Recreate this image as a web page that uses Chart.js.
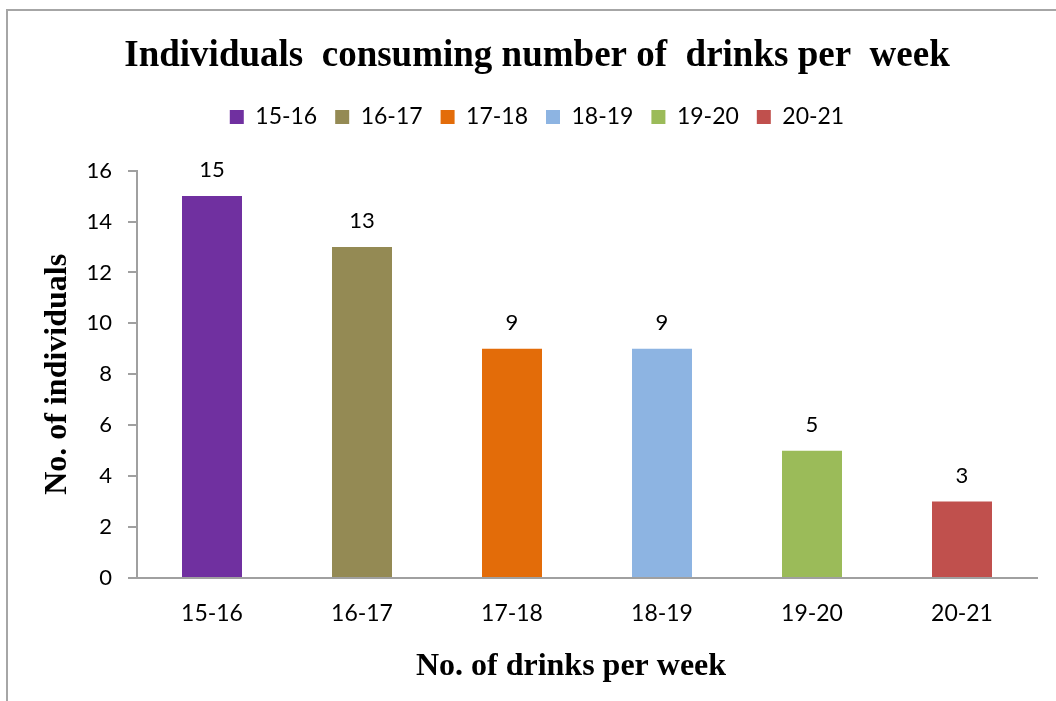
<!DOCTYPE html>
<html>
<head>
<meta charset="utf-8">
<script src="https://cdn.jsdelivr.net/npm/chart.js@4.4.1/dist/chart.umd.min.js"></script>
<style>
  html, body { margin: 0; padding: 0; background: #fff; overflow: hidden; }
  #wrap { position: relative; width: 1056px; height: 701px; }
  #frame { position: absolute; left: 6px; top: 9px; width: 1200px; height: 900px;
           border-left: 2px solid #a6a6a6; border-top: 2px solid #a6a6a6; pointer-events: none; }
  canvas { position: absolute; left: 0; top: 0; }
</style>
</head>
<body>
<div id="wrap">
  <canvas id="c" width="1056" height="701"></canvas>
  <div id="frame"></div>
</div>
<script>
const categories = ['15-16', '16-17', '17-18', '18-19', '19-20', '20-21'];
const individuals = [15, 13, 9, 9, 5, 3];
const barColors = ['#7030A0', '#948A54', '#E36C09', '#8DB4E2', '#9BBB59', '#C0504D'];
const yTicks = [0, 2, 4, 6, 8, 10, 12, 14, 16];

const tickFont = { family: 'Lato', size: 22 };
const axisGray = '#a0a0a0';

const valueLabels = {
  id: 'valueLabels',
  afterDatasetsDraw(chart) {
    const ctx = chart.ctx;
    const meta = chart.getDatasetMeta(0);
    ctx.save();
    ctx.font = '22px Lato';
    ctx.fillStyle = '#000';
    ctx.textAlign = 'center';
    ctx.textBaseline = 'middle';
    meta.data.forEach((bar, i) => {
      ctx.fillText(String(individuals[i]), bar.x, bar.y - 26);
    });
    ctx.restore();
  }
};

new Chart(document.getElementById('c'), {
  type: 'bar',
  data: {
    labels: categories,
    datasets: [{
      label: 'No. of individuals',
      data: individuals,
      backgroundColor: barColors,
      borderWidth: 0,
      categoryPercentage: 1.0,
      barPercentage: 0.4
    }]
  },
  options: {
    responsive: false,
    animation: false,
    layout: { padding: { left: 37, right: 19, top: 0, bottom: 0 } },
    plugins: {
      title: {
        display: true,
        text: 'Individuals  consuming number of  drinks per  week',
        color: '#000',
        font: { family: 'Liberation Serif', size: 37, weight: 'bold' },
        padding: { top: 34, bottom: 9 }
      },
      subtitle: {
        display: true,
        text: ' ',
        weight: 500,
        font: { size: 1 },
        padding: { top: 31, bottom: 0 }
      },
      legend: {
        display: true,
        position: 'top',
        labels: {
          color: '#000',
          font: { family: 'Lato', size: 23 },
          boxWidth: 14,
          boxHeight: 14,
          padding: 18,
          generateLabels(chart) {
            return chart.data.labels.map((l, i) => ({
              text: l,
              fillStyle: barColors[i],
              strokeStyle: barColors[i],
              lineWidth: 0,
              hidden: false,
              index: i,
              fontColor: '#000'
            }));
          }
        },
        onClick() {}
      },
      tooltip: { enabled: false }
    },
    scales: {
      x: {
        grid: { drawOnChartArea: false, drawTicks: false },
        border: { color: axisGray, width: 2 },
        ticks: { color: '#000', font: { family: 'Lato', size: 23 }, padding: 22 },
        title: {
          display: true,
          text: 'No. of drinks per week    ',
          color: '#000',
          font: { family: 'Liberation Serif', size: 32, weight: 'bold' },
          padding: { top: 0, bottom: 15 }
        },
        afterFit(scale) { scale.height = 123; }
      },
      y: {
        min: 0,
        max: 16,
        afterBuildTicks(scale) { scale.ticks = yTicks.map(v => ({ value: v })); },
        grid: { drawOnChartArea: false, drawTicks: true, tickLength: 9, color: axisGray, lineWidth: 2 },
        border: { color: axisGray, width: 2 },
        ticks: { color: '#000', font: tickFont, padding: 16 },
        title: {
          display: true,
          text: 'No. of individuals',
          color: '#000',
          font: { family: 'Liberation Serif', size: 32, weight: 'bold' },
          padding: { top: 2, bottom: 0 }
        },
        afterFit(scale) { scale.width = 100; }
      }
    }
  },
  plugins: [valueLabels]
});
</script>
</body>
</html>
